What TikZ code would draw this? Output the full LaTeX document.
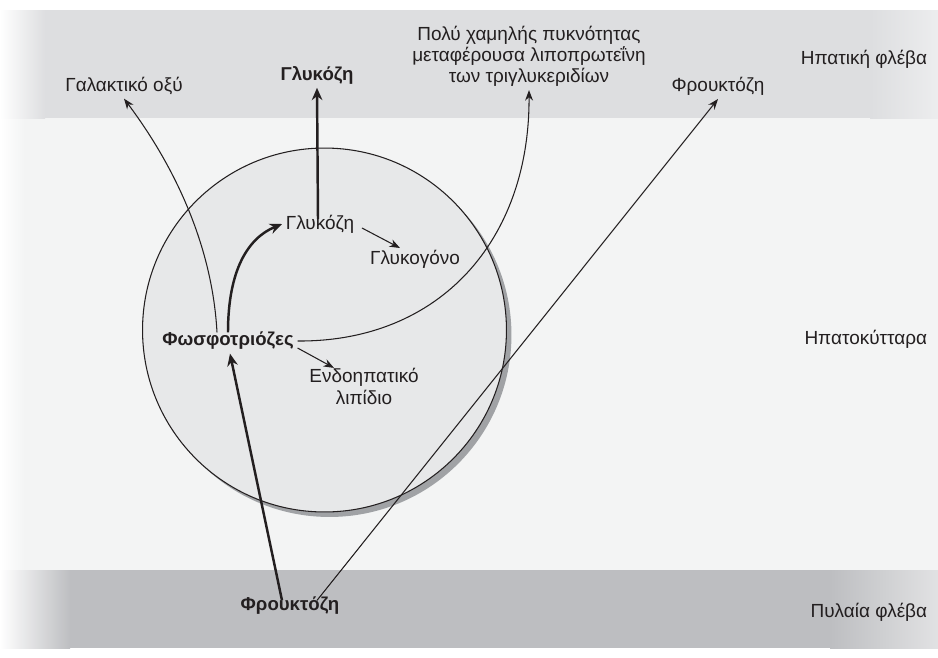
\documentclass[tikz,border=0pt]{standalone}
\usepackage{fontspec}
\setmainfont{Liberation Sans}
\usetikzlibrary{arrows.meta,calc}

\definecolor{veinTop}{RGB}{221,222,224}
\definecolor{veinBot}{RGB}{189,190,193}
\definecolor{cellBg}{RGB}{243,244,244}
\definecolor{cellFill}{RGB}{231,232,233}
\definecolor{shadowC}{RGB}{160,162,165}
\definecolor{inkC}{RGB}{35,31,32}

\tikzset{
  lbl/.style={font=\fontsize{10.8}{12}\selectfont,text=inkC,inner sep=2pt},
  lblb/.style={font=\fontsize{10.6}{12}\selectfont\bfseries,text=inkC,inner sep=2pt},
  thinarr/.style={draw=inkC,line width=0.6pt,-{Stealth[length=6pt,width=4.5pt]}},
  thickarr/.style={draw=inkC,line width=1.4pt,-{Stealth[length=7pt,width=6pt]}},
}

\begin{document}
\begin{tikzpicture}[x=0.02cm,y=-0.02cm]
\def\cx{324.5}
\def\cy{330}
\def\rr{3.64cm}
\useasboundingbox (0,0) rectangle (938,657);

% bands
\fill[cellBg] (0,118) rectangle (938,570);
\shade[left color=white,right color=cellBg] (0,118) rectangle (25,570);
\fill[veinTop] (0,10) rectangle (938,118);
\shade[left color=white,right color=veinTop] (0,10) rectangle (45,118);
\shade[left color=veinTop,right color=veinTop!55!white] (870,10) rectangle (938,118);
\fill[veinBot] (0,570) rectangle (938,648);
\shade[left color=white,right color=veinBot] (0,570) rectangle (70,648);
\shade[left color=veinBot,right color=veinBot!45!white] (830,570) rectangle (938,648);

% cell
\fill[shadowC] (\cx+5,\cy+5) circle (\rr);
\filldraw[fill=cellFill,draw=inkC,line width=0.6pt] (\cx,\cy) circle (\rr);

% labels
\node[lbl] (lact) at (124,86) {Γαλακτικό οξύ};
\node[lblb] (glutop) at (317,75) {Γλυκόζη};
\node[lbl,align=center,font=\fontsize{10.8}{12}\selectfont] (vldl) at (529,56) {Πολύ χαμηλής πυκνότητας\\μεταφέρουσα λιποπρωτεΐνη\\των τριγλυκεριδίων};
\node[lbl] (frutop) at (718,86) {Φρουκτόζη};
\node[lbl,anchor=east] (hepv) at (931,59) {Ηπατική φλέβα};
\node[lbl,anchor=east] (hepc) at (931,339) {Ηπατοκύτταρα};
\node[lbl,anchor=east] (portv) at (931,612) {Πυλαία φλέβα};
\node[lblb] (frubot) at (290,606) {Φρουκτόζη};

\node[lbl] (glu) at (320,224) {Γλυκόζη};
\node[lbl] (glyc) at (415,259) {Γλυκογόνο};
\node[lblb] (phos) at (228,341) {Φωσφοτριόζες};
\node[lbl,align=center,font=\fontsize{10.8}{12.5}\selectfont] (endo) at (364,386) {Ενδοηπατικό\\λιπίδιο};

% arrows
\draw[thinarr] ($(phos.north)+(-11,4)$) .. controls (212,240) and (170,160) .. (lact.south);
\draw[thickarr] ($(phos.north)+(0,4)$) .. controls (228,270) and (248,238) .. (glu.west);
\draw[thickarr] ($(glu.north)+(-2,8)$) -- (glutop.south);
\draw[thinarr] ($(glu.east)+(4,4)$) -- ($(glyc.north)+(-15,2)$);
\draw[thinarr] (phos.east) .. controls (440,342) and (530,240) .. (vldl.south);
\draw[thinarr] ($(phos.east)+(0,7)$) -- ($(endo.north)+(-30,4)$);
\draw[thickarr] ($(frubot.north)+(-8,7)$) -- ($(phos.south)+(2,0)$);
\draw[thinarr] ($(frubot.north)+(27,7)$) -- (frutop.south);
\end{tikzpicture}
\end{document}
